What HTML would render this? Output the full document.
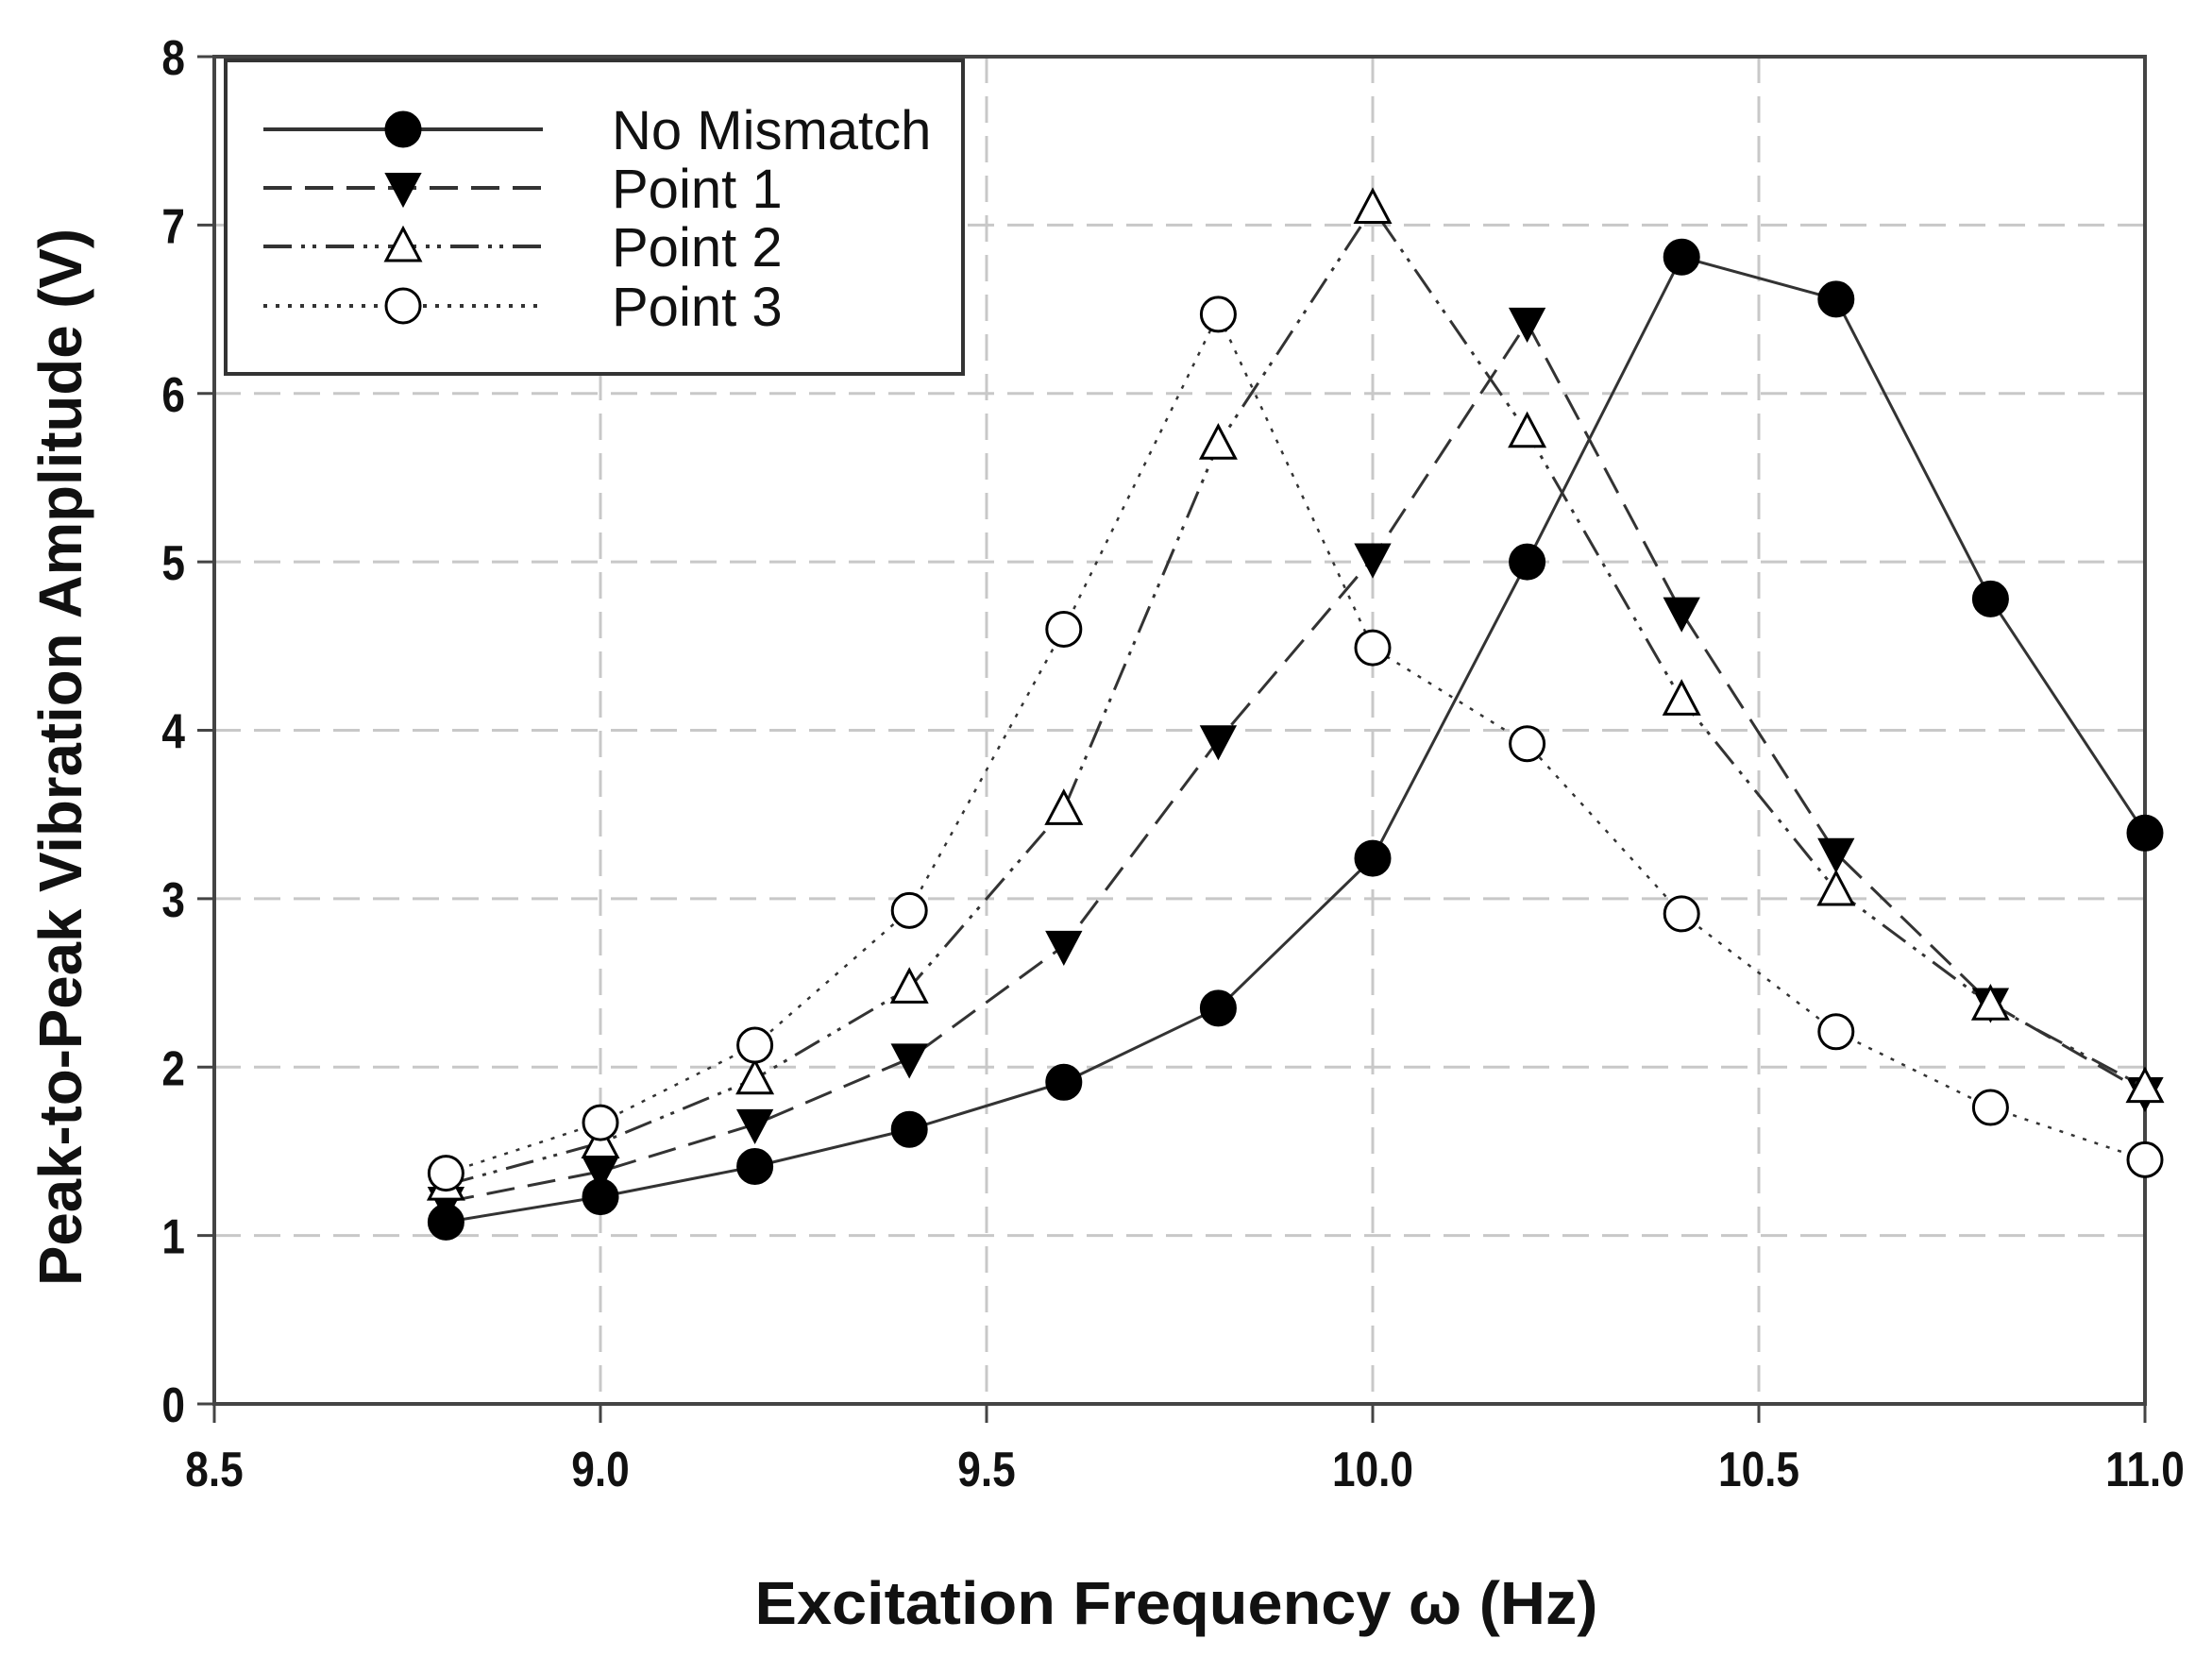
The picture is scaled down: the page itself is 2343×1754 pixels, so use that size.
<!DOCTYPE html>
<html><head><meta charset="utf-8"><style>
html,body{margin:0;padding:0;background:#fff;}
svg{display:block;font-family:"Liberation Sans",Arial,sans-serif;}
</style></head><body>
<svg id="chart" width="2343" height="1754" viewBox="0 0 2343 1754" xmlns="http://www.w3.org/2000/svg">
<rect width="2343" height="1754" fill="#fff"/>
<g id="grid"></g>
<g id="axes"></g>
<g id="series"></g>
<g id="legend"></g>
<text x="1246" y="1720" text-anchor="middle" font-size="64" font-weight="bold" fill="#111" textLength="893" lengthAdjust="spacingAndGlyphs">Excitation Frequency ω (Hz)</text>
<text transform="translate(64,802) rotate(-90)" text-anchor="middle" dominant-baseline="central" font-size="64" font-weight="bold" fill="#111" textLength="1120" lengthAdjust="spacingAndGlyphs">Peak-to-Peak Vibration Amplitude (V)</text>
</svg>
<script>
const freqs = [8.8, 9.0, 9.2, 9.4, 9.6, 9.8, 10.0, 10.2, 10.4, 10.6, 10.8, 11.0];
const noMismatch = [1.08, 1.23, 1.41, 1.63, 1.91, 2.35, 3.24, 5.0, 6.81, 6.56, 4.78, 3.39];
const point1 = [1.2, 1.38, 1.66, 2.05, 2.72, 3.94, 5.02, 6.42, 4.7, 3.27, 2.38, 1.85];
const point2 = [1.3, 1.55, 1.93, 2.47, 3.53, 5.7, 7.1, 5.77, 4.18, 3.05, 2.37, 1.88];
const point3 = [1.37, 1.67, 2.13, 2.93, 4.6, 6.47, 4.49, 3.92, 2.91, 2.21, 1.76, 1.45];
const xTicks = [8.5, 9.0, 9.5, 10.0, 10.5, 11.0];
const xTickLabels = ["8.5", "9.0", "9.5", "10.0", "10.5", "11.0"];
const yTicks = [0, 1, 2, 3, 4, 5, 6, 7, 8];
const seriesNames = ["No Mismatch", "Point 1", "Point 2", "Point 3"];

const NS = "http://www.w3.org/2000/svg";
const L = 227, R = 2272, T = 60, B = 1487;
function xs(v){ return L + (v - 8.5) / (11.0 - 8.5) * (R - L); }
function ys(v){ return B - v / 8 * (B - T); }
function mk(tag, attrs, parent){
  const e = document.createElementNS(NS, tag);
  for (const k in attrs) e.setAttribute(k, attrs[k]);
  parent.appendChild(e); return e;
}
const grid = document.getElementById('grid');
const axes = document.getElementById('axes');
const series = document.getElementById('series');
const legend = document.getElementById('legend');

xTicks.forEach((t, i) => {
  if (i > 0 && i < xTicks.length - 1) {
    const g = mk('line', {x1: xs(t), x2: xs(t), y1: T, y2: B, stroke: '#c8c8c8', 'stroke-width': 3, 'stroke-dasharray': '28 14'}, grid);
    
    
  }
  const tk = mk('line', {x1: xs(t), x2: xs(t), y1: B, y2: B + 20, stroke: '#444', 'stroke-width': 3}, axes);
  
  
  const lb = mk('text', {transform: `translate(${xs(t)},1574) scale(0.85,1)`, 'text-anchor': 'middle', 'font-size': 52, 'font-weight': 'bold', fill: '#111'}, axes);
  lb.textContent = xTickLabels[i];
  
  
});
yTicks.forEach((t, i) => {
  if (i > 0 && i < yTicks.length - 1) {
    const g = mk('line', {x1: L, x2: R, y1: ys(t), y2: ys(t), stroke: '#c8c8c8', 'stroke-width': 3, 'stroke-dasharray': '28 14'}, grid);
    
    
  }
  const tk = mk('line', {x1: L - 18, x2: L, y1: ys(t), y2: ys(t), stroke: '#444', 'stroke-width': 3}, axes);
  
  
  const lb = mk('text', {transform: `translate(196,${ys(t) + 19}) scale(0.85,1)`, 'text-anchor': 'end', 'font-size': 52, 'font-weight': 'bold', fill: '#111'}, axes);
  lb.textContent = String(t);
  
  
});
const frame = mk('rect', {x: L, y: T, width: R - L, height: B - T, fill: 'none', stroke: '#444', 'stroke-width': 4}, axes);



const styles = [
  {data: noMismatch, dash: 'none', marker: 'circle', fill: '#000'},
  {data: point1, dash: '30 14', marker: 'tri-down', fill: '#000'},
  {data: point2, dash: '30 10 4 8 4 10', marker: 'tri-up', fill: '#fff'},
  {data: point3, dash: '4 9', marker: 'circle', fill: '#fff'}
];
const MR = 18;
function marker(type, cx, cy, fill, parent, name){
  let e;
  if (type === 'circle') e = mk('circle', {cx: cx, cy: cy, r: MR, fill: fill, stroke: '#000', 'stroke-width': 3}, parent);
  else if (type === 'tri-down') e = mk('polygon', {points: `${cx-18},${cy-15} ${cx+18},${cy-15} ${cx},${cy+19}`, fill: fill, stroke: '#000', 'stroke-width': 2}, parent);
  else e = mk('polygon', {points: `${cx-18},${cy+15} ${cx+18},${cy+15} ${cx},${cy-19}`, fill: fill, stroke: '#000', 'stroke-width': 3}, parent);
  
  
}
styles.forEach((s, si) => {
  const g = mk('g', {}, series);
  
  
  const pts = s.data.map((v, i) => xs(freqs[i]) + ',' + ys(v)).join(' ');
  const pl = mk('polyline', {points: pts, fill: 'none', stroke: '#333', 'stroke-width': si === 3 ? 2.5 : 3, 'stroke-dasharray': s.dash}, g);
  
  
  s.data.forEach((v, i) => marker(s.marker, xs(freqs[i]), ys(v), s.fill, g, 'data-point'));
});

const lbox = mk('rect', {x: 239, y: 64, width: 781, height: 332, fill: '#fff', stroke: '#333', 'stroke-width': 4}, legend);


const rowsY = [137, 199, 261, 324];
styles.forEach((s, si) => {
  const g = mk('g', {}, legend);
  
  
  const y = rowsY[si];
  mk('line', {x1: 279, x2: 575, y1: y, y2: y, stroke: '#333', 'stroke-width': 4, 'stroke-dasharray': s.dash}, g);
  marker(s.marker, 427, y, s.fill, g, 'legend-marker');
  const t = mk('text', {x: 648, y: y + 21, 'font-size': 58, fill: '#111'}, g);
  t.textContent = seriesNames[si];
  
  
});
</script>
</body></html>
